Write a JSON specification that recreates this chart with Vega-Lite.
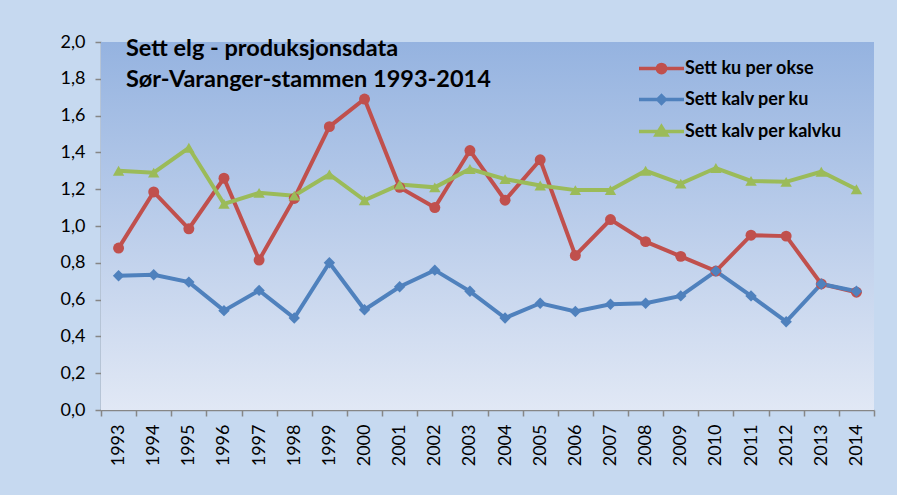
{
  "$schema": "https://vega.github.io/schema/vega-lite/v6.json",
  "width": 773,
  "height": 368,
  "autosize": {"type": "none"},
  "padding": {"left": 101, "top": 42, "right": 23, "bottom": 85},
  "background": "#c6d9f0",
  "title": {
    "text": ["Sett elg - produksjonsdata", "Sør-Varanger-stammen 1993-2014"],
    "anchor": "start", "frame": "group", "orient": "top", "offset": 0,
    "font": "Lato", "fontSize": 23.5, "fontWeight": "bold", "color": "black",
    "lineHeight": 31, "baseline": "top", "dx": 25, "dy": 58
  },
  "config": {
    "view": {"stroke": null},
    "axis": {
      "labelFont": "Lato", "labelFontSize": 18, "labelColor": "black",
      "domainColor": "#868686", "tickColor": "#868686", "domainWidth": 1.5, "tickWidth": 1.5,
      "tickSize": 6, "grid": false, "title": null
    },
    "legend": {
      "orient": "none", "legendX": 551, "legendY": 17, "padding": 0,
      "labelFont": "Lato", "labelFontWeight": "bold", "labelFontSize": 18, "labelColor": "black",
      "symbolSize": 225, "labelOffset": 14, "rowPadding": 8, "symbolStrokeWidth": 3.5, "symbolOpacity": 1
    }
  },
  "datasets": {
    "series": [
      {"year": "1993", "series": "Sett ku per okse", "value": 0.88},
      {"year": "1994", "series": "Sett ku per okse", "value": 1.185},
      {"year": "1995", "series": "Sett ku per okse", "value": 0.985},
      {"year": "1996", "series": "Sett ku per okse", "value": 1.26},
      {"year": "1997", "series": "Sett ku per okse", "value": 0.815},
      {"year": "1998", "series": "Sett ku per okse", "value": 1.15},
      {"year": "1999", "series": "Sett ku per okse", "value": 1.54},
      {"year": "2000", "series": "Sett ku per okse", "value": 1.69},
      {"year": "2001", "series": "Sett ku per okse", "value": 1.21},
      {"year": "2002", "series": "Sett ku per okse", "value": 1.10},
      {"year": "2003", "series": "Sett ku per okse", "value": 1.41},
      {"year": "2004", "series": "Sett ku per okse", "value": 1.14},
      {"year": "2005", "series": "Sett ku per okse", "value": 1.36},
      {"year": "2006", "series": "Sett ku per okse", "value": 0.84},
      {"year": "2007", "series": "Sett ku per okse", "value": 1.035},
      {"year": "2008", "series": "Sett ku per okse", "value": 0.915},
      {"year": "2009", "series": "Sett ku per okse", "value": 0.835},
      {"year": "2010", "series": "Sett ku per okse", "value": 0.755},
      {"year": "2011", "series": "Sett ku per okse", "value": 0.95},
      {"year": "2012", "series": "Sett ku per okse", "value": 0.945},
      {"year": "2013", "series": "Sett ku per okse", "value": 0.685},
      {"year": "2014", "series": "Sett ku per okse", "value": 0.64},
      {"year": "1993", "series": "Sett kalv per ku", "value": 0.73},
      {"year": "1994", "series": "Sett kalv per ku", "value": 0.735},
      {"year": "1995", "series": "Sett kalv per ku", "value": 0.695},
      {"year": "1996", "series": "Sett kalv per ku", "value": 0.54},
      {"year": "1997", "series": "Sett kalv per ku", "value": 0.65},
      {"year": "1998", "series": "Sett kalv per ku", "value": 0.50},
      {"year": "1999", "series": "Sett kalv per ku", "value": 0.80},
      {"year": "2000", "series": "Sett kalv per ku", "value": 0.545},
      {"year": "2001", "series": "Sett kalv per ku", "value": 0.67},
      {"year": "2002", "series": "Sett kalv per ku", "value": 0.76},
      {"year": "2003", "series": "Sett kalv per ku", "value": 0.645},
      {"year": "2004", "series": "Sett kalv per ku", "value": 0.50},
      {"year": "2005", "series": "Sett kalv per ku", "value": 0.58},
      {"year": "2006", "series": "Sett kalv per ku", "value": 0.535},
      {"year": "2007", "series": "Sett kalv per ku", "value": 0.575},
      {"year": "2008", "series": "Sett kalv per ku", "value": 0.58},
      {"year": "2009", "series": "Sett kalv per ku", "value": 0.62},
      {"year": "2010", "series": "Sett kalv per ku", "value": 0.755},
      {"year": "2011", "series": "Sett kalv per ku", "value": 0.62},
      {"year": "2012", "series": "Sett kalv per ku", "value": 0.48},
      {"year": "2013", "series": "Sett kalv per ku", "value": 0.685},
      {"year": "2014", "series": "Sett kalv per ku", "value": 0.645},
      {"year": "1993", "series": "Sett kalv per kalvku", "value": 1.30},
      {"year": "1994", "series": "Sett kalv per kalvku", "value": 1.29},
      {"year": "1995", "series": "Sett kalv per kalvku", "value": 1.425},
      {"year": "1996", "series": "Sett kalv per kalvku", "value": 1.12},
      {"year": "1997", "series": "Sett kalv per kalvku", "value": 1.18},
      {"year": "1998", "series": "Sett kalv per kalvku", "value": 1.165},
      {"year": "1999", "series": "Sett kalv per kalvku", "value": 1.28},
      {"year": "2000", "series": "Sett kalv per kalvku", "value": 1.14},
      {"year": "2001", "series": "Sett kalv per kalvku", "value": 1.225},
      {"year": "2002", "series": "Sett kalv per kalvku", "value": 1.21},
      {"year": "2003", "series": "Sett kalv per kalvku", "value": 1.31},
      {"year": "2004", "series": "Sett kalv per kalvku", "value": 1.255},
      {"year": "2005", "series": "Sett kalv per kalvku", "value": 1.22},
      {"year": "2006", "series": "Sett kalv per kalvku", "value": 1.195},
      {"year": "2007", "series": "Sett kalv per kalvku", "value": 1.195},
      {"year": "2008", "series": "Sett kalv per kalvku", "value": 1.30},
      {"year": "2009", "series": "Sett kalv per kalvku", "value": 1.23},
      {"year": "2010", "series": "Sett kalv per kalvku", "value": 1.315},
      {"year": "2011", "series": "Sett kalv per kalvku", "value": 1.245},
      {"year": "2012", "series": "Sett kalv per kalvku", "value": 1.24},
      {"year": "2013", "series": "Sett kalv per kalvku", "value": 1.295},
      {"year": "2014", "series": "Sett kalv per kalvku", "value": 1.20}
    ]
  },
  "layer": [
    {
      "data": {"values": [{}]},
      "mark": {
        "type": "rect",
        "color": {
          "gradient": "linear", "x1": 0, "y1": 0, "x2": 0, "y2": 1,
          "stops": [{"offset": 0, "color": "#95b3e0"}, {"offset": 1, "color": "#e1e8f5"}]
        }
      },
      "encoding": {}
    },
    {
      "data": {"name": "series"},
      "encoding": {
        "x": {
          "field": "year", "type": "ordinal",
          "scale": {"type": "band", "paddingInner": 0, "paddingOuter": 0},
          "axis": {"labelAngle": -90, "labelAlign": "right", "labelBaseline": "middle", "labelPadding": 8, "tickBand": "extent"}
        },
        "y": {
          "field": "value", "type": "quantitative",
          "scale": {"domain": [0, 2], "nice": false},
          "axis": {"values": [0, 0.2, 0.4, 0.6, 0.8, 1.0, 1.2, 1.4, 1.6, 1.8, 2.0], "labelExpr": "replace(format(datum.value, '.1f'), '.', ',')", "labelPadding": 10}
        },
        "color": {
          "field": "series", "type": "nominal",
          "scale": {"domain": ["Sett ku per okse", "Sett kalv per ku", "Sett kalv per kalvku"], "range": ["#c0504d", "#4f81bd", "#9bbb59"]},
          "legend": {"title": null}
        }
      },
      "layer": [
        {
          "transform": [{"filter": "false"}],
          "mark": {"type": "point", "filled": true, "opacity": 1},
          "encoding": {
            "stroke": {
              "field": "series", "type": "nominal",
              "scale": {"domain": ["Sett ku per okse", "Sett kalv per ku", "Sett kalv per kalvku"], "range": ["#c0504d", "#4f81bd", "#9bbb59"]},
              "legend": {"title": null}
            },
            "shape": {
              "field": "series", "type": "nominal",
              "scale": {
                "domain": ["Sett ku per okse", "Sett kalv per ku", "Sett kalv per kalvku"],
                "range": [
                  "M-3,0H3M0.55,0A0.55,0.55,0,1,1,-0.55,0A0.55,0.55,0,1,1,0.55,0Z",
                  "M-3,0H3M0,-0.5L0.5,0L0,0.5L-0.5,0Z",
                  "M-3,0H3M0,-0.65L0.7,0.45L-0.7,0.45Z"
                ]
              },
              "legend": {"title": null}
            }
          }
        },
        {"mark": {"type": "line", "strokeWidth": 4}},
        {
          "transform": [{"filter": "datum.series === 'Sett ku per okse'"}],
          "mark": {"type": "point", "filled": true, "opacity": 1, "shape": "circle", "size": 120}
        },
        {
          "transform": [{"filter": "datum.series === 'Sett kalv per ku'"}],
          "mark": {"type": "point", "filled": true, "opacity": 1, "shape": "diamond", "size": 130}
        },
        {
          "transform": [{"filter": "datum.series === 'Sett kalv per kalvku'"}],
          "mark": {"type": "point", "filled": true, "opacity": 1, "shape": "triangle-up", "size": 130}
        }
      ]
    }
  ]
}
